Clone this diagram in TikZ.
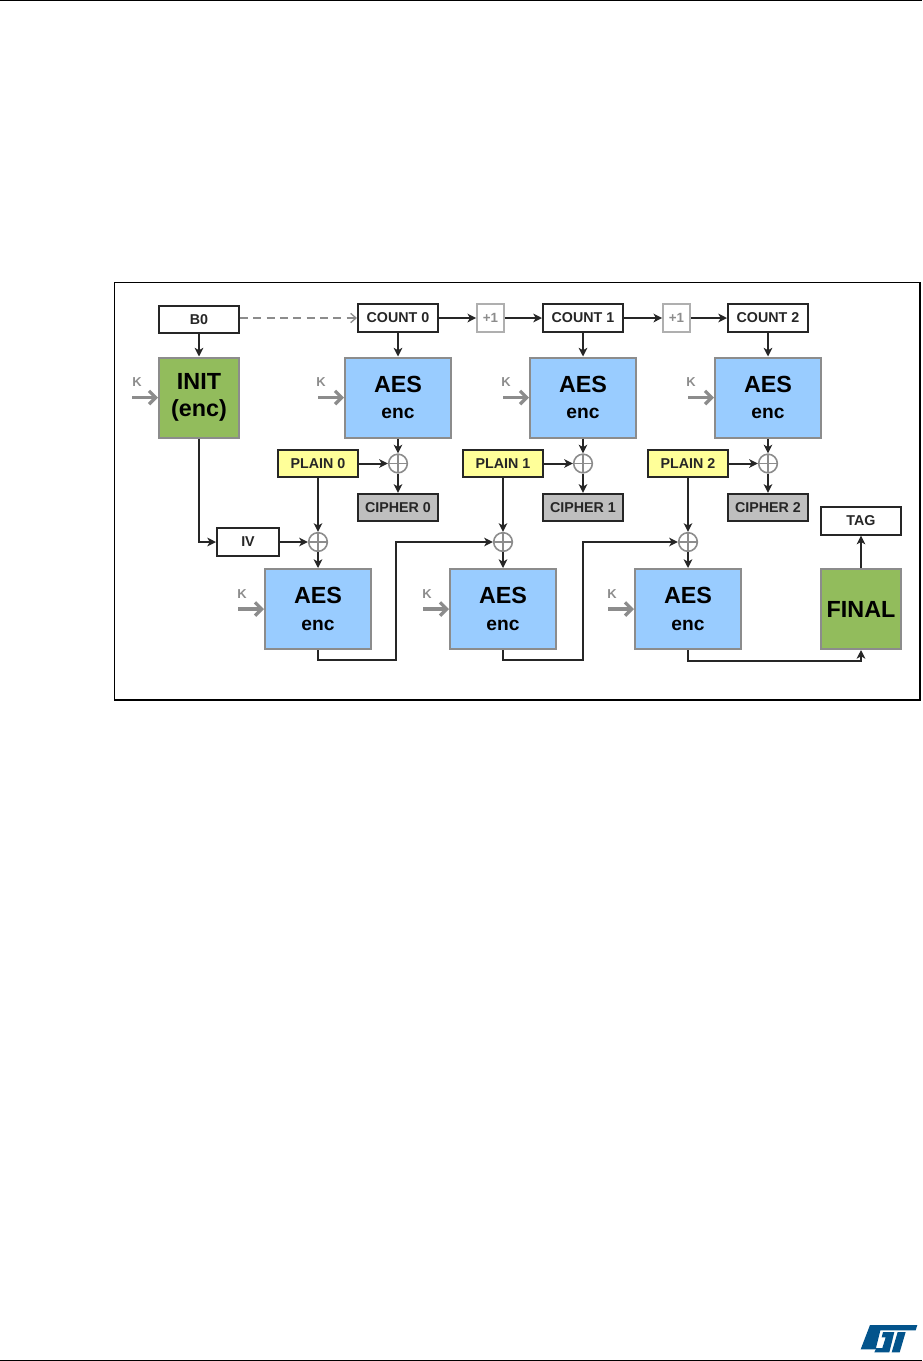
\documentclass[tikz,border=0pt]{standalone}
\usepackage{fontspec}
\setmainfont{Liberation Sans}
\usetikzlibrary{arrows.meta,positioning}
\definecolor{InitGreen}{RGB}{146,188,92}
\definecolor{AesBlue}{RGB}{153,204,255}
\definecolor{PlainYellow}{RGB}{255,255,153}
\definecolor{CipherGray}{RGB}{191,191,191}
\definecolor{EdgeGray}{RGB}{140,140,140}
\definecolor{LogoBlue}{RGB}{3,84,140}
\tikzset{
  flow/.style={line width=1.5pt,draw=black!85,-{Stealth[length=6.5pt,width=6.5pt,inset=1.8pt]}},
  flowkey/.style={line width=2.5pt,draw=EdgeGray,-{Straight Barb[length=5pt,width=10pt]}},
  keylabel/.style={font=\fontsize{9.7}{10}\selectfont\bfseries,text=EdgeGray,inner sep=0pt},
  word/.style={draw=black!85,line width=1.5pt,fill=white,inner sep=0pt,minimum width=60pt,minimum height=20.5pt,font=\fontsize{10.7}{12}\selectfont\bfseries,text=black!85},
  block/.style={draw=EdgeGray,line width=1.5pt,inner sep=0pt,align=center,minimum width=79.5pt,minimum height=60pt,font=\fontsize{17.5}{19}\selectfont\bfseries},
  aesblock/.style={block,fill=AesBlue},
  endblock/.style={block,fill=InitGreen,minimum width=60pt},
  xor/.style={circle,draw=EdgeGray,line width=1.2pt,fill=white,inner sep=0pt,minimum size=14pt,
    path picture={\draw[EdgeGray,line width=1pt] (path picture bounding box.north)--(path picture bounding box.south)
      (path picture bounding box.west)--(path picture bounding box.east);}},
  incr/.style={draw=EdgeGray!70,line width=1.5pt,fill=white,inner sep=0pt,minimum width=20pt,minimum height=20.5pt,font=\fontsize{10}{12}\selectfont\bfseries,text=EdgeGray}
}
\newcommand{\encline}{\\[1pt]{\fontsize{14.4}{17}\selectfont enc}}

\begin{document}
\begin{tikzpicture}[x=0.75pt,y=-0.75pt]
  \useasboundingbox (0,0) rectangle (922,1361);
  % page rules and outer frame
  \draw[line width=1pt] (0,0.7) -- (922,0.7);
  \draw[line width=1pt] (0,1360.2) -- (922,1360.2);
  \draw[line width=0.8pt] (114.5,282.5) rectangle (920,700);

  % top row
  \node[word] (b0) at (199,319.5) {B0};
  \node[word] (count0) at (398,318) {COUNT 0};
  \node[word] (count1) at (583,318) {COUNT 1};
  \node[word] (count2) at (768,318) {COUNT 2};
  \node[incr] (inc0) at (490.5,318) {+1};
  \node[incr] (inc1) at (676.5,318) {+1};

  % blocks
  \node[endblock] (init) at (199,397.5) {INIT\\[1.5pt](enc)};
  \node[aesblock] (aes0) at (398,397.5) {AES\encline};
  \node[aesblock] (aes1) at (583,397.5) {AES\encline};
  \node[aesblock] (aes2) at (768,397.5) {AES\encline};

  \node[word,fill=PlainYellow] (plain0) at (318,463.5) {PLAIN 0};
  \node[word,fill=PlainYellow] (plain1) at (503,463.5) {PLAIN 1};
  \node[word,fill=PlainYellow] (plain2) at (688,463.5) {PLAIN 2};
  \node[xor] (add0) at (398,463.5) {};
  \node[xor] (add1) at (583,463.5) {};
  \node[xor] (add2) at (768,463.5) {};
  \node[word,fill=CipherGray] (cipher0) at (398,507.5) {CIPHER 0};
  \node[word,fill=CipherGray] (cipher1) at (583,507.5) {CIPHER 1};
  \node[word,fill=CipherGray] (cipher2) at (768,507.5) {CIPHER 2};

  \node[word,minimum width=46.5pt] (iv) at (248,542) {IV};
  \node[xor] (mix0) at (318,542) {};
  \node[xor] (mix1) at (503,542) {};
  \node[xor] (mix2) at (688,542) {};
  \node[aesblock] (mac0) at (318,609) {AES\encline};
  \node[aesblock] (mac1) at (503,609) {AES\encline};
  \node[aesblock] (mac2) at (688,609) {AES\encline};
  \node[endblock] (final) at (861,609) {FINAL};
  \node[word] (tag) at (861,521) {TAG};

  % key inputs
  \node[keylabel] (kinit) at (137,382) {K};
  \node[keylabel] (kaes0) at (321,382) {K};
  \node[keylabel] (kaes1) at (506,382) {K};
  \node[keylabel] (kaes2) at (691,382) {K};
  \node[keylabel] (kmac0) at (242,594) {K};
  \node[keylabel] (kmac1) at (427,594) {K};
  \node[keylabel] (kmac2) at (612,594) {K};
  \coordinate (ininit) at (132,397.5);
  \coordinate (inaes0) at (318,397.5);
  \coordinate (inaes1) at (503,397.5);
  \coordinate (inaes2) at (688,397.5);
  \coordinate (inmac0) at (238,609);
  \coordinate (inmac1) at (423,609);
  \coordinate (inmac2) at (608,609);
  \draw[flowkey] (ininit) -- (init.west);
  \draw[flowkey] (inaes0) -- (aes0.west);
  \draw[flowkey] (inaes1) -- (aes1.west);
  \draw[flowkey] (inaes2) -- (aes2.west);
  \draw[flowkey] (inmac0) -- (mac0.west);
  \draw[flowkey] (inmac1) -- (mac1.west);
  \draw[flowkey] (inmac2) -- (mac2.west);

  % connectors
  \draw[line width=1pt,draw=EdgeGray,dash pattern=on 6pt off 4pt,-{Straight Barb[length=4pt,width=7pt]}] (b0.east |- count0) -- (count0.west);
  \draw[flow] (b0) -- (init);
  \draw[flow] (count0) -- (inc0);
  \draw[flow] (inc0) -- (count1);
  \draw[flow] (count1) -- (inc1);
  \draw[flow] (inc1) -- (count2);
  \draw[flow] (count0) -- (aes0);
  \draw[flow] (count1) -- (aes1);
  \draw[flow] (count2) -- (aes2);
  \draw[flow] (aes0) -- (add0);
  \draw[flow] (aes1) -- (add1);
  \draw[flow] (aes2) -- (add2);
  \draw[flow] (plain0) -- (add0);
  \draw[flow] (plain1) -- (add1);
  \draw[flow] (plain2) -- (add2);
  \draw[flow] (add0) -- (cipher0);
  \draw[flow] (add1) -- (cipher1);
  \draw[flow] (add2) -- (cipher2);
  \draw[flow] (plain0) -- (mix0);
  \draw[flow] (plain1) -- (mix1);
  \draw[flow] (plain2) -- (mix2);
  \draw[flow] (mix0) -- (mac0);
  \draw[flow] (mix1) -- (mac1);
  \draw[flow] (mix2) -- (mac2);
  \draw[flow] (init.south) |- (iv.west);
  \draw[flow] (iv) -- (mix0);
  \coordinate (turn0) at (395.5,660);
  \coordinate (turn1) at (583,660);
  \coordinate (turn2) at (861,661);
  \draw[flow] (mac0.south) |- (turn0) |- (mix1.west);
  \draw[flow] (mac1.south) |- (turn1) |- (mix2.west);
  \draw[flow] (mac2.south) |- (turn2) -- (final.south);
  \draw[flow] (final) -- (tag);

  % logo
  \begin{scope}[shift={(855,1320)},x=0.25pt,y=-0.25pt]
    \fill[LogoBlue] (45,15) -- (187,15) -- (182,31) -- (76,31) -- (62,88) -- (17,88) -- cycle;
    \fill[LogoBlue] (84,36) -- (118,36) -- (103,97) -- (58,97) -- (64,84) -- (82,84) -- (92,52) -- (80,52) -- cycle;
    \fill[LogoBlue] (128,36) -- (152,36) -- (134,97) -- (110,97) -- cycle;
  \end{scope}
\end{tikzpicture}
\end{document}
